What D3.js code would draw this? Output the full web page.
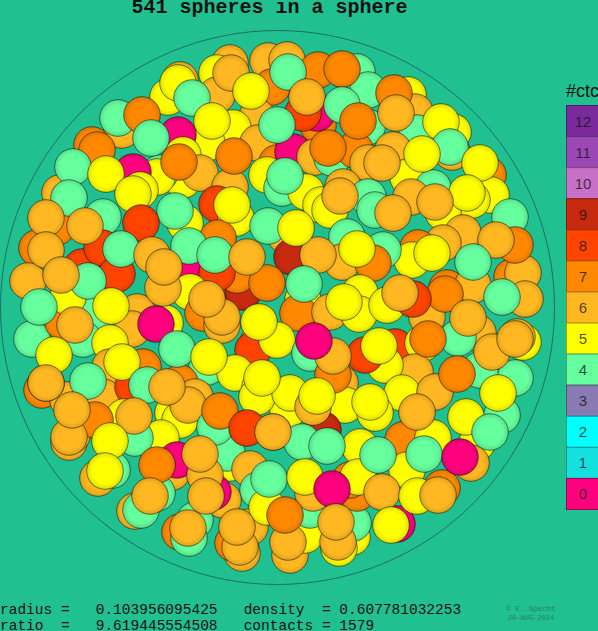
<!DOCTYPE html>
<html><head><meta charset="utf-8">
<style>html,body{margin:0;padding:0;background:#20c090;overflow:hidden}svg{display:block}</style>
<script src="https://cdn.jsdelivr.net/npm/d3@7"></script></head><body>
<script>
const title="541 spheres in a sphere";
const statRows=[["radius =   0.103956095425   density  = 0.607781032253"],["ratio  =   9.619445554508   contacts = 1579"]];
const credit=["© E. Specht","20-AUG-2024"];
const ctcLevels=[12,11,10,9,8,7,6,5,4,3,2,1,0];
const ctcColors=["#7b2a9e","#9c48b4","#c870c8","#c82a10","#ff4400","#ff8800","#ffb822","#ffff00","#66ff9e","#8a7ab4","#00ffff","#14e0e0","#ff007f"];
// spheres as [x, y, contacts] in sphere-view units, farthest first
const backSpheres=[[230,63,6],[217,73,5],[268,61,6],[287,60,6],[272,87,7],[217,95,6],[257,117,6],[180,80,6],[168,97,5],[233,128,5],[122,130,6],[118,118,4],[92,145,7],[318,70,7],[357,72,4],[368,90,4],[408,95,5],[415,112,6],[453,132,5],[417,133,4],[452,152,6],[488,175,7],[491,195,5],[510,217,4],[512,277,7],[523,273,6],[525,299,6],[515,245,7],[523,342,5],[517,337,6],[515,378,4],[502,415,4],[477,443,5],[471,463,6],[442,488,7],[397,524,0],[352,537,5],[339,548,5],[353,523,4],[290,555,6],[305,535,5],[242,553,6],[233,543,7],[250,527,6],[180,532,7],[195,520,4],[135,511,6],[98,478,6],[112,470,4],[69,442,6],[72,435,6],[42,390,7],[37,248,7],[57,227,7],[60,193,6],[82,267,8],[28,281,6],[32,339,4],[63,322,7]];
const midSpheres=[[207,143,5],[178,135,0],[258,143,6],[183,180,5],[183,155,5],[160,173,4],[277,163,7],[200,173,6],[157,177,5],[133,172,0],[140,190,5],[230,187,6],[217,204,8],[267,175,5],[282,188,4],[318,125,7],[317,113,0],[303,113,8],[367,127,4],[293,152,0],[315,157,6],[332,158,4],[355,150,7],[393,150,6],[368,163,6],[408,177,5],[433,188,4],[343,187,6],[306,192,5],[321,205,5],[330,210,5],[285,235,6],[368,197,4],[472,200,5],[443,212,5],[463,233,6],[443,243,6],[418,248,7],[412,260,5],[383,250,4],[347,237,4],[342,262,6],[373,263,7],[292,257,9],[360,293,5],[303,300,5],[298,313,7],[243,292,9],[237,275,7],[192,273,0],[217,273,8],[185,223,5],[236,218,5],[218,238,7],[103,217,4],[190,292,5],[203,313,7],[222,325,6],[222,317,6],[165,323,5],[137,312,6],[132,329,6],[98,311,4],[68,297,5],[83,339,4],[110,343,5],[110,367,6],[143,367,7],[207,367,4],[258,343,6],[253,350,8],[277,340,5],[235,373,5],[260,387,5],[310,353,4],[395,347,8],[423,343,5],[427,317,6],[447,288,7],[478,333,6],[458,338,4],[480,370,4],[415,372,6],[385,365,5],[365,355,8],[340,383,6],[288,410,5],[257,397,5],[290,393,5],[345,405,5],[402,393,5],[435,392,6],[103,397,6],[68,400,6],[46,383,6],[133,387,8],[180,383,7],[195,397,6],[124,417,5],[95,420,7],[173,413,5],[180,420,5],[188,405,6],[161,438,5],[135,438,4],[230,463,5],[227,453,4],[215,427,4],[273,432,6],[250,469,6],[258,490,4],[267,507,5],[223,500,6],[213,492,0],[172,472,6],[177,460,0],[157,493,4],[323,430,9],[313,407,6],[375,413,5],[403,440,7],[433,438,5],[360,447,5],[407,470,5],[357,493,7],[350,480,7],[358,477,5],[302,442,4],[310,510,4],[313,493,6]];
const frontSpheres=[[231,73,6],[288,72,4],[251,91,5],[178,83,5],[192,98,4],[212,121,5],[277,125,4],[142,115,7],[151,138,4],[179,162,7],[234,156,7],[97,150,7],[73,167,4],[106,174,5],[133,194,5],[69,198,4],[175,211,4],[232,205,5],[285,176,4],[342,69,7],[307,97,6],[342,105,4],[358,121,7],[394,93,7],[396,113,6],[441,122,5],[450,147,4],[480,163,5],[467,193,5],[422,154,5],[382,163,6],[328,148,7],[340,196,6],[411,197,6],[435,202,6],[375,210,4],[393,213,6],[46,218,6],[102,248,8],[85,226,6],[141,223,8],[268,226,4],[46,250,6],[117,274,8],[121,249,4],[152,255,6],[189,246,4],[215,255,4],[267,283,7],[247,257,6],[318,255,6],[296,228,5],[88,281,4],[61,275,6],[163,288,6],[164,267,6],[207,299,6],[357,249,5],[432,253,5],[496,240,6],[473,285,6],[473,262,4],[445,294,7],[468,318,6],[502,297,4],[304,284,4],[330,312,6],[359,314,5],[344,302,5],[387,305,5],[413,299,8],[400,293,6],[39,307,4],[111,306,5],[75,325,6],[156,324,0],[54,355,5],[122,362,5],[177,349,4],[209,357,5],[259,322,5],[333,375,7],[333,356,6],[314,341,0],[379,346,5],[428,339,7],[492,352,6],[515,339,6],[457,374,7],[46,383,6],[88,381,4],[147,385,4],[167,387,6],[262,378,5],[317,396,5],[370,402,5],[417,412,6],[498,393,5],[220,411,7],[69,437,6],[72,410,6],[134,416,6],[110,441,5],[247,428,8],[205,475,6],[206,496,6],[200,454,6],[157,465,7],[105,471,5],[141,510,4],[150,496,6],[189,538,4],[188,528,6],[240,547,6],[237,527,6],[273,432,6],[269,479,4],[327,446,4],[378,455,4],[424,454,4],[466,417,5],[490,432,4],[460,457,0],[305,477,5],[332,489,0],[382,492,6],[417,496,5],[438,495,6],[288,542,6],[285,515,7],[338,542,6],[336,522,6],[391,525,5]];

const W=598,H=631;
const x=d3.scaleLinear().domain([0,555]).range([0,555]);
const y=d3.scaleLinear().domain([30,585]).range([30,585]);
const color=d3.scaleOrdinal().domain(ctcLevels).range(ctcColors);
const svg=d3.select("body").append("svg").attr("width",W).attr("height",H);
svg.append("rect").attr("width",W).attr("height",H).attr("fill","#20c090");
const defs=svg.append("defs");
ctcLevels.forEach(l=>{
  const c=d3.color(color(l));
  const g=defs.append("radialGradient").attr("id","ball"+l).attr("cx","50%").attr("cy","50%").attr("r","50%");
  g.append("stop").attr("offset","0%").attr("stop-color",c.formatHex());
  g.append("stop").attr("offset","70%").attr("stop-color",c.formatHex());
  g.append("stop").attr("offset","100%").attr("stop-color",c.darker(0.4).formatHex());
});
svg.append("circle").attr("cx",x(277.5)).attr("cy",y(307.5)).attr("r",277).attr("fill","none").attr("stroke","#1c6e68").attr("stroke-width",1);
const all=[...backSpheres,...midSpheres,...frontSpheres];
svg.append("g").selectAll("circle").data(all).join("circle")
  .attr("cx",d=>x(d[0])).attr("cy",d=>y(d[1])).attr("r",18.3)
  .attr("fill",d=>`url(#ball${d[2]})`)
  .attr("stroke","#000").attr("stroke-opacity",0.5).attr("stroke-width",1);
svg.append("text").attr("x",269.5).attr("y",13).attr("text-anchor","middle")
  .attr("font-family","Liberation Mono").attr("font-weight","bold").attr("font-size",20).attr("fill","#111").text(title);
svg.selectAll(".stat").data(statRows).join("text").attr("x",0).attr("y",(d,i)=>614+i*16)
  .attr("font-family","Liberation Mono").attr("font-size",14.5).attr("fill","#111").style("white-space","pre").text(d=>d[0]);
svg.selectAll(".credit").data(credit).join("text").attr("x",531).attr("y",(d,i)=>611+i*9).attr("text-anchor","middle")
  .attr("font-family","Liberation Mono").attr("font-size",(d,i)=>i?7:7.5).attr("fill","#2a7f6c").text(d=>d);
const ly=d3.scaleBand().domain(ctcLevels).range([105.5,509.5]);
svg.append("text").attr("x",566).attr("y",97).attr("font-family","Liberation Sans").attr("font-size",18).attr("fill","#111").text("#ctc");
const lg=svg.append("g").selectAll("g").data(ctcLevels).join("g");
lg.append("rect").attr("x",566.5).attr("y",d=>ly(d)).attr("width",40).attr("height",ly.bandwidth())
  .attr("fill",d=>color(d)).attr("stroke",d=>d3.color(color(d)).darker(1.2).formatHex());
lg.append("text").attr("x",583).attr("y",d=>ly(d)+ly.bandwidth()/2+5.5).attr("text-anchor","middle")
  .attr("font-family","Liberation Sans").attr("font-size",15).attr("fill","#111").attr("fill-opacity",0.75).text(d=>d);
</script></body></html>
